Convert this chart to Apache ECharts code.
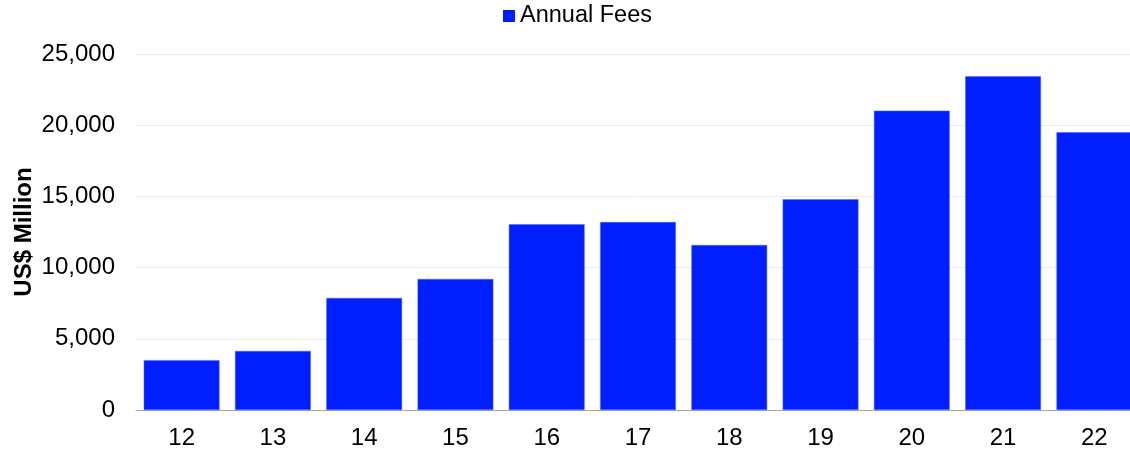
<!DOCTYPE html>
<html>
<head>
<meta charset="utf-8">
<script src="https://cdn.jsdelivr.net/npm/echarts@6/dist/echarts.min.js"></script>
<style>
html,body{margin:0;padding:0;background:#fff;}
#chart{width:1130px;height:454px;}
</style>
</head>
<body>
<div id="chart"></div>
<script>
const categories = ['12','13','14','15','16','17','18','19','20','21','22'];
const annualFees = [3500, 4150, 7870, 9200, 13040, 13200, 11590, 14800, 21020, 23430, 19500];
const seriesName = 'Annual Fees';
const yAxisTitle = 'US$ Million';

const FONT = '"Liberation Sans", Arial, sans-serif';
const chart = echarts.init(document.getElementById('chart'), null, {renderer: 'canvas'});
chart.setOption({
  animation: false,
  backgroundColor: '#ffffff',
  legend: {
    data: [seriesName],
    left: 503,
    top: 4,
    padding: 0,
    itemWidth: 12,
    itemHeight: 12,
    itemGap: 10,
    icon: 'rect',
    itemStyle: {borderWidth: 0, color: '#001eff'},
    textStyle: {fontFamily: FONT, fontSize: 23.5, color: '#000'}
  },
  grid: {left: 136, top: 54, width: 1004, height: 356, containLabel: false, outerBoundsMode: 'none'},
  xAxis: {
    type: 'category',
    data: categories,
    axisLine: {show: true, lineStyle: {color: '#a6a6a6', width: 1}},
    axisTick: {show: false},
    axisLabel: {fontFamily: FONT, fontSize: 24, color: '#000', margin: 16}
  },
  yAxis: {
    type: 'value',
    min: 0,
    max: 25000,
    interval: 5000,
    name: yAxisTitle,
    nameLocation: 'middle',
    nameGap: 100,
    nameMoveOverlap: false,
    nameTextStyle: {fontFamily: FONT, fontSize: 24, fontWeight: 'bold', color: '#000'},
    axisLine: {show: false},
    axisTick: {show: false},
    splitLine: {lineStyle: {color: '#ebebeb', width: 1}},
    axisLabel: {
      fontFamily: FONT, fontSize: 24, color: '#000', margin: 21,
      formatter: v => v.toLocaleString('en-US')
    }
  },
  series: [{
    name: seriesName,
    type: 'bar',
    data: annualFees,
    barCategoryGap: '17%',
    itemStyle: {color: '#001eff', borderColor: '#4d66ff', borderWidth: 0.5}
  }]
});
</script>
</body>
</html>
